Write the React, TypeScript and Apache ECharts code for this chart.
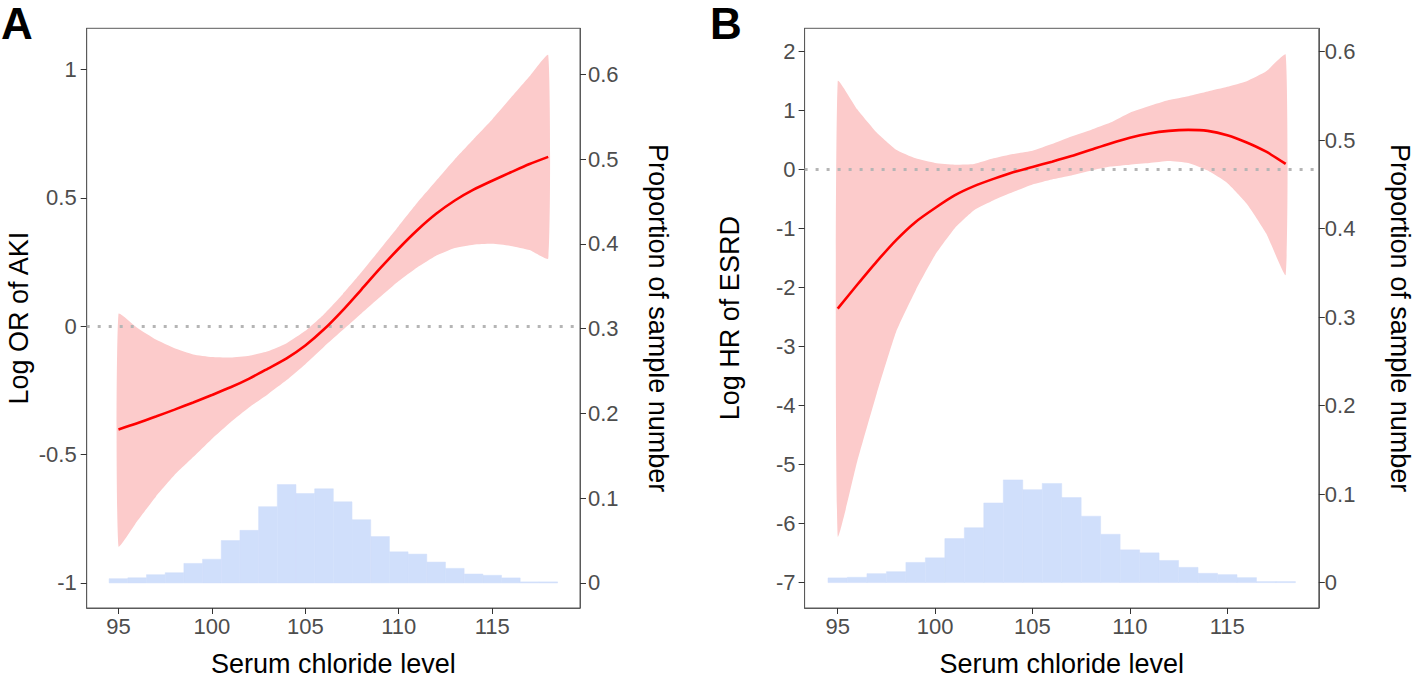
import React, { useEffect, useRef } from "react";
import * as echarts from "echarts";

const chlorideLevels = [95, 96, 97, 98, 99, 100, 101, 102, 103, 104, 105, 106, 107, 108, 109, 110, 111, 112, 113, 114, 115, 116, 117, 118];

// Panel A: AKI
const histA = [0.005, 0.006, 0.0097, 0.012, 0.023, 0.028, 0.05, 0.062, 0.09, 0.116, 0.1055, 0.111, 0.0957, 0.0746, 0.0547, 0.0367, 0.034, 0.0246, 0.0172, 0.0105, 0.009, 0.0059, 0.0012, 0.0012];
const fitA = [-0.402, -0.378, -0.352, -0.325, -0.297, -0.268, -0.238, -0.204, -0.165, -0.125, -0.075, -0.012, 0.062, 0.143, 0.225, 0.303, 0.375, 0.438, 0.49, 0.532, 0.567, 0.6, 0.632, 0.66];
const upperA = [0.048, -0.006, -0.052, -0.086, -0.11, -0.12, -0.122, -0.115, -0.097, -0.066, -0.018, 0.047, 0.125, 0.21, 0.3, 0.391, 0.482, 0.567, 0.651, 0.729, 0.806, 0.89, 0.974, 1.057];
const lowerA = [-0.858, -0.76, -0.664, -0.58, -0.51, -0.439, -0.374, -0.316, -0.265, -0.21, -0.148, -0.08, -0.015, 0.05, 0.114, 0.176, 0.23, 0.275, 0.305, 0.318, 0.321, 0.313, 0.297, 0.264];

// Panel B: ESRD
const histB = [0.0053, 0.006, 0.0101, 0.0123, 0.0228, 0.028, 0.0497, 0.062, 0.09, 0.116, 0.105, 0.112, 0.096, 0.075, 0.0546, 0.037, 0.0336, 0.025, 0.0172, 0.0105, 0.009, 0.0056, 0.0011, 0.0011];
const fitB = [-2.358, -1.955, -1.562, -1.197, -0.889, -0.653, -0.44, -0.283, -0.16, -0.048, 0.042, 0.132, 0.227, 0.334, 0.44, 0.536, 0.609, 0.653, 0.67, 0.653, 0.58, 0.457, 0.3, 0.093];
const upperB = [1.495, 1.018, 0.625, 0.334, 0.188, 0.109, 0.081, 0.093, 0.188, 0.261, 0.317, 0.429, 0.558, 0.67, 0.794, 0.962, 1.074, 1.175, 1.242, 1.321, 1.4, 1.495, 1.663, 1.944];
const lowerB = [-6.217, -4.95, -3.8, -2.75, -2.05, -1.45, -1.0, -0.693, -0.524, -0.384, -0.255, -0.171, -0.104, -0.02, 0.048, 0.081, 0.109, 0.143, 0.109, -0.02, -0.228, -0.58, -1.085, -1.786];

const xTicks = [95, 100, 105, 110, 115];
const yTicksA = [-1, -0.5, 0, 0.5, 1];
const yTicksB = [-7, -6, -5, -4, -3, -2, -1, 0, 1, 2];
const propTicks = [0, 0.1, 0.2, 0.3, 0.4, 0.5, 0.6];

const FONT = "'Liberation Sans', Arial, Helvetica, sans-serif";
const BAND = "#FCCBCB";
const HIST = "#D0DFFB";
const LINE = "#FF0000";
const FRAME = "#5a5a5a";

function xAxisCfg(grid: number) {
  return {
    gridIndex: grid,
    type: "value",
    min: 93.3,
    max: 119.7,
    axisLine: { show: true, onZero: false, lineStyle: { color: FRAME, width: 1 } },
    axisTick: { show: true, customValues: xTicks, length: 6, lineStyle: { color: "#333" } },
    axisLabel: { customValues: xTicks, color: "#4D4D4D", fontSize: 22, fontFamily: FONT, margin: 7, formatter: (v: number) => String(v) },
    splitLine: { show: false },
    name: "Serum chloride level",
    nameLocation: "middle",
    nameGap: 42,
    nameTextStyle: { fontSize: 27, color: "#000", fontFamily: FONT },
  };
}

function yAxisCfg(grid: number, min: number, max: number, ticks: number[], name: string, right: boolean, gap: number, margin: number) {
  return {
    gridIndex: grid,
    type: "value",
    position: right ? "right" : "left",
    min,
    max,
    axisLine: { show: true, onZero: false, lineStyle: { color: FRAME, width: 1 } },
    axisTick: { show: true, customValues: ticks, length: 6, lineStyle: { color: "#333" } },
    axisLabel: { customValues: ticks, color: "#4D4D4D", fontSize: 22, fontFamily: FONT, margin, formatter: (v: number) => String(v) },
    splitLine: { show: false },
    name,
    nameLocation: "middle",
    nameRotate: right ? -90 : 90,
    nameGap: gap,
    nameTextStyle: { fontSize: 27, color: "#000", fontFamily: FONT },
  };
}

function histSeries(xIdx: number, yIdx: number, hist: number[]) {
  return {
    type: "custom",
    xAxisIndex: xIdx,
    yAxisIndex: yIdx,
    z: 1,
    silent: true,
    data: chlorideLevels.map((x, i) => [x, hist[i]]),
    encode: { x: 0, y: 1 },
    renderItem: (params: any, api: any) => {
      const x = api.value(0);
      const h = api.value(1);
      const p0 = api.coord([x - 0.5, h]);
      const p1 = api.coord([x + 0.5, 0]);
      return {
        type: "rect",
        shape: { x: p0[0], y: p0[1], width: p1[0] - p0[0], height: p1[1] - p0[1] },
        style: { fill: HIST, stroke: HIST, lineWidth: 0.5 },
      };
    },
  };
}

function bandSeries(xIdx: number, yIdx: number, upper: number[], lower: number[]) {
  return {
    type: "custom",
    xAxisIndex: xIdx,
    yAxisIndex: yIdx,
    z: 2,
    silent: true,
    data: [[chlorideLevels[0], lower[0]]],
    encode: { x: 0, y: 1 },
    renderItem: (params: any, api: any) => {
      if (params.dataIndex !== 0) return null;
      const pts: number[][] = [];
      chlorideLevels.forEach((x, i) => pts.push(api.coord([x, upper[i]])));
      for (let i = chlorideLevels.length - 1; i >= 0; i--) pts.push(api.coord([chlorideLevels[i], lower[i]]));
      return { type: "polygon", shape: { points: pts, smooth: 0.15 }, style: { fill: BAND } };
    },
  };
}

function fitSeries(xIdx: number, yIdx: number, fit: number[]) {
  return {
    type: "line",
    xAxisIndex: xIdx,
    yAxisIndex: yIdx,
    z: 4,
    silent: true,
    showSymbol: false,
    smooth: 0.25,
    data: chlorideLevels.map((x, i) => [x, fit[i]]),
    lineStyle: { color: LINE, width: 2.6 },
    markLine: {
      silent: true,
      symbol: "none",
      label: { show: false },
      z: 3,
      lineStyle: { type: [3, 8], color: "#B5B5B5", width: 3 },
      data: [{ yAxis: 0 }],
    },
  };
}

export default function App() {
  const ref = useRef<HTMLDivElement>(null);
  useEffect(() => {
    if (!ref.current) return;
    const chart = echarts.init(ref.current, null, { renderer: "svg" });
    chart.setOption({
      animation: false,
      backgroundColor: "#fff",
      textStyle: { fontFamily: FONT },
      grid: [
        { left: 86.7, top: 28.3, width: 493.3, height: 583.7, show: true, borderColor: FRAME, borderWidth: 1, backgroundColor: "transparent" },
        { left: 804.6, top: 28.3, width: 514.2, height: 584, show: true, borderColor: FRAME, borderWidth: 1, backgroundColor: "transparent" },
      ],
      xAxis: [xAxisCfg(0), xAxisCfg(1)],
      yAxis: [
        yAxisCfg(0, -1.098, 1.161, yTicksA, "Log OR of AKI", false, 54, 10),
        yAxisCfg(0, -0.0296, 0.6544, propTicks, "Proportion of sample number", true, 64, 8),
        yAxisCfg(1, -7.433, 2.392, yTicksB, "Log HR of ESRD", false, 61, 9),
        yAxisCfg(1, -0.0287, 0.6262, propTicks, "Proportion of sample number", true, 68, 6),
      ],
      graphic: [
        { type: "text", left: 1, top: 1, style: { text: "A", fontSize: 44, lineHeight: 44, fontWeight: "bold", fontFamily: FONT, fill: "#000" } },
        { type: "text", left: 710, top: 1, style: { text: "B", fontSize: 44, lineHeight: 44, fontWeight: "bold", fontFamily: FONT, fill: "#000" } },
      ],
      series: [
        histSeries(0, 1, histA),
        bandSeries(0, 0, upperA, lowerA),
        fitSeries(0, 0, fitA),
        histSeries(1, 3, histB),
        bandSeries(1, 2, upperB, lowerB),
        fitSeries(1, 2, fitB),
      ],
    });
    return () => chart.dispose();
  }, []);
  return <div ref={ref} style={{ position: "absolute", left: 0, top: 0, width: 1415, height: 682 }} />;
}
